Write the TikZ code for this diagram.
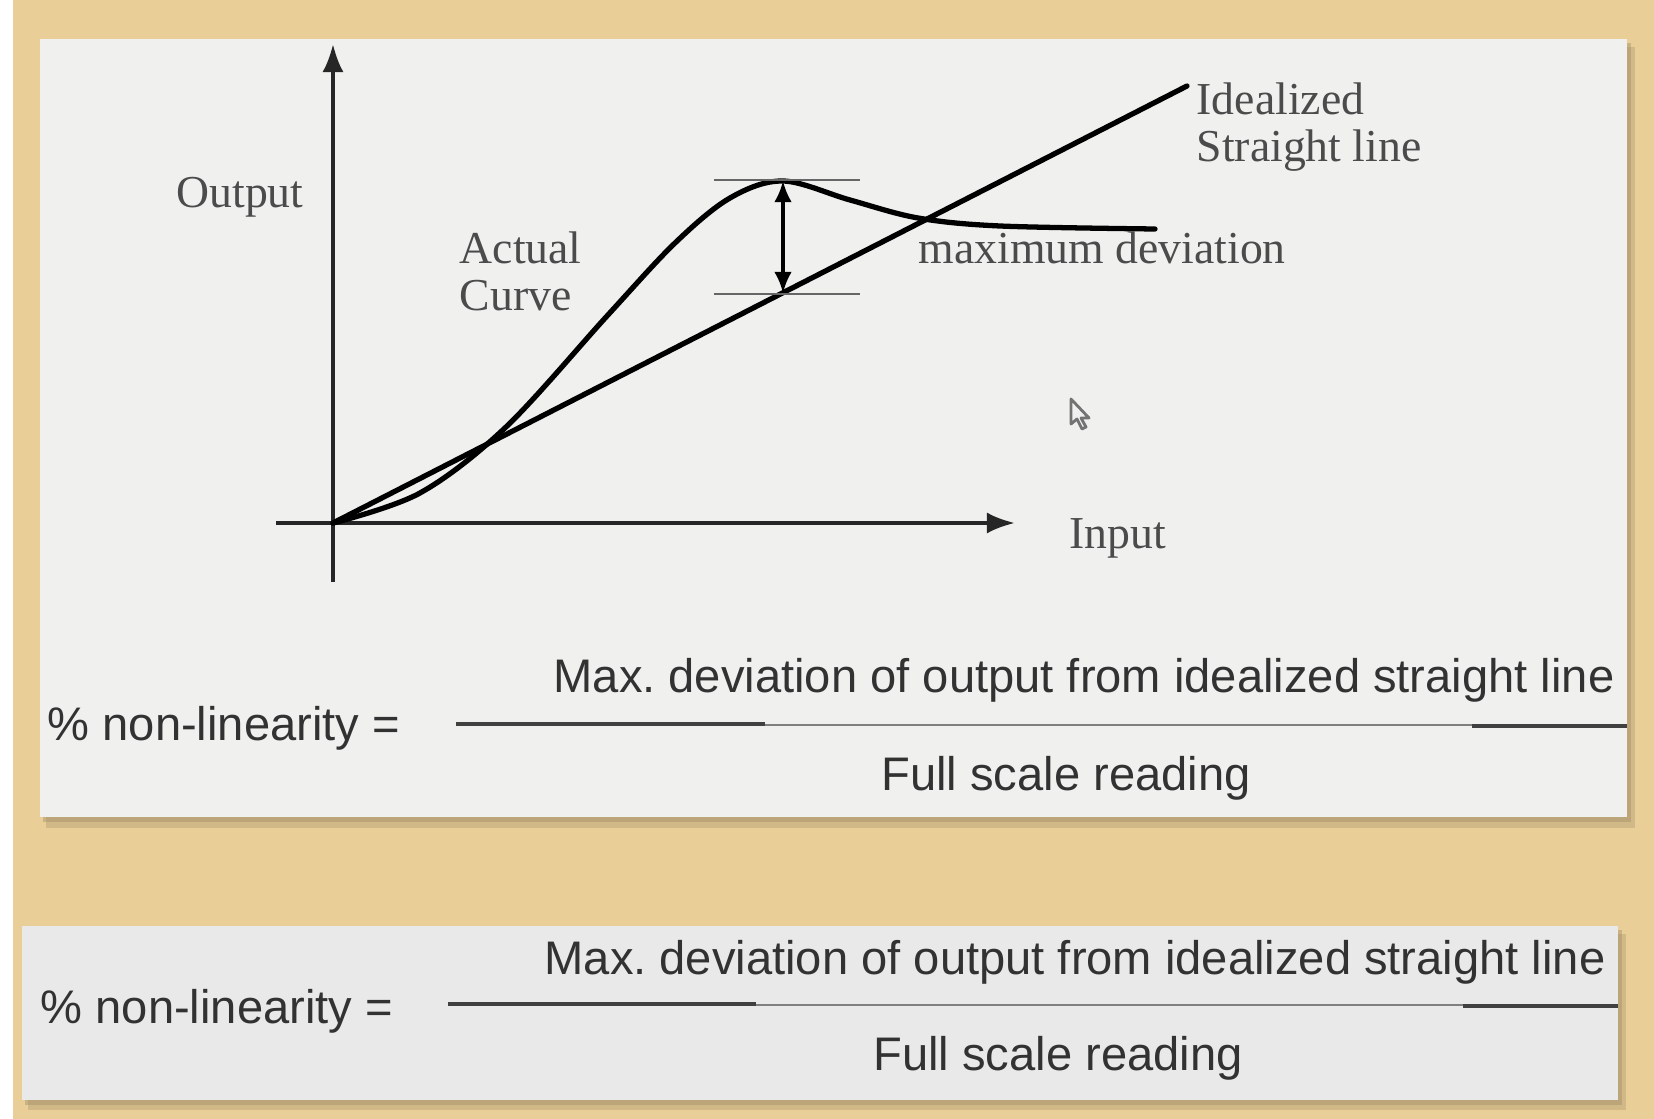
\documentclass[tikz,border=0pt]{standalone}
\usepackage{fontspec}
\setmainfont{Liberation Serif}
\setsansfont{Liberation Sans}
\usetikzlibrary{arrows.meta, positioning, calc}
\definecolor{woodtan}{RGB}{233,206,152}
\definecolor{panelgray}{RGB}{240,241,239}
\definecolor{panelgraytwo}{RGB}{232,233,232}
\definecolor{labelgray}{RGB}{75,75,75}
\definecolor{formulagray}{RGB}{50,50,50}

\begin{document}
\begin{tikzpicture}[x=0.01cm, y=-0.01cm,
    lbl/.style={font=\fontsize{13}{13.4}\selectfont, text=labelgray, inner sep=0pt},
    frm/.style={font=\sffamily\fontsize{13.4}{15}\selectfont, text=formulagray, inner sep=0pt},
    axis/.style={line width=1.1pt, draw=black!85, -{Latex[length=8pt,width=6pt]}},
    thickline/.style={line width=1.5pt, draw=black, line cap=round},
    bar/.style={line width=0.7pt, draw=black!60},
    fracthick/.style={line width=1.2pt, draw=black!75},
    fracthin/.style={line width=0.8pt, draw=black!50}]
  \useasboundingbox (0,0) rectangle (1654,1119);

  % Background and panels
  \fill[white] (0,0) rectangle (1654,1119);
  \fill[woodtan] (13,0) rectangle (1654,1119);
  \fill[woodtan!70!black, opacity=0.35] (46,47) rectangle (1635,828);
  \fill[woodtan!70!black, opacity=0.45] (43,43) rectangle (1631,822);
  \fill[panelgray] (40,39) rectangle (1627,817);
  \fill[woodtan!70!black, opacity=0.35] (28,934) rectangle (1626,1110);
  \fill[woodtan!70!black, opacity=0.45] (25,930) rectangle (1622,1105);
  \fill[panelgraytwo] (22,926) rectangle (1618,1100);

  % Axes
  \coordinate (O) at (333,523);
  \coordinate (ytop) at (333,44);
  \coordinate (ybot) at (333,582);
  \coordinate (xleft) at (276,523);
  \coordinate (xtip) at (1015,523);
  \draw[axis] (ybot) -- (ytop);
  \draw[axis] (xleft) -- (xtip);

  % Idealized line and actual curve
  \coordinate (lend) at (1187,86);
  \draw[thickline] (O) -- (lend);
  \draw[thickline] plot[smooth, tension=0.55] coordinates {(333,523) (420,493) (506,427) (607,316) (675,243) (730,198) (783,181) (850,200) (918,218) (1000,226) (1155,229)};

  % Maximum deviation marker
  \coordinate (tb1) at (714,180);
  \coordinate (tb2) at (860,180);
  \coordinate (bb1) at (714,294);
  \coordinate (bb2) at (860,294);
  \coordinate (dtop) at (783,181);
  \coordinate (dbot) at (783,293);
  \draw[bar] (tb1) -- (tb2);
  \draw[bar] (bb1) -- (bb2);
  \draw[line width=0.9pt, {Latex[length=6pt,width=5pt]}-{Latex[length=6pt,width=5pt]}] (dtop) -- (dbot);

  % Graph labels
  \node[lbl] (outlbl) at (240,197) {Output};
  \node[lbl, align=left, anchor=west] (actlbl) at (459,271) {Actual\\Curve};
  \node[lbl, align=left, anchor=west] (ideallbl) at (1196,127) {Idealized\\Straight line};
  \node[lbl, anchor=west] (devlbl) at (918,248) {maximum deviation};
  \node[lbl, anchor=west] (inlbl) at (1069,538) {Input};

  % Mouse pointer
  \draw[black!55, line width=0.8pt, fill=panelgray, line join=round]
    (1071,399) -- (1071,424) -- (1077,419) -- (1082,429) -- (1086,427) -- (1081,418) -- (1089,418) -- cycle;

  % Formula, upper panel
  \node[frm, anchor=west] (pct1) at (47,728) {\% non-linearity =};
  \node[frm] (num1) at (1084,680) {Max.\ deviation of output from idealized straight line};
  \node[frm] (den1) at (1066,778) {Full scale reading};
  \draw[fracthick] (456,724) -- (765,724);
  \draw[fracthin] (765,725) -- (1472,725);
  \draw[fracthick] (1472,726) -- (1627,726);

  % Formula, lower panel
  \node[frm, anchor=west] (pct2) at (40,1011) {\% non-linearity =};
  \node[frm] (num2) at (1075,962) {Max.\ deviation of output from idealized straight line};
  \node[frm] (den2) at (1058,1058) {Full scale reading};
  \draw[fracthick] (448,1004) -- (756,1004);
  \draw[fracthin] (756,1005) -- (1463,1005);
  \draw[fracthick] (1463,1006) -- (1618,1006);
\end{tikzpicture}
\end{document}
